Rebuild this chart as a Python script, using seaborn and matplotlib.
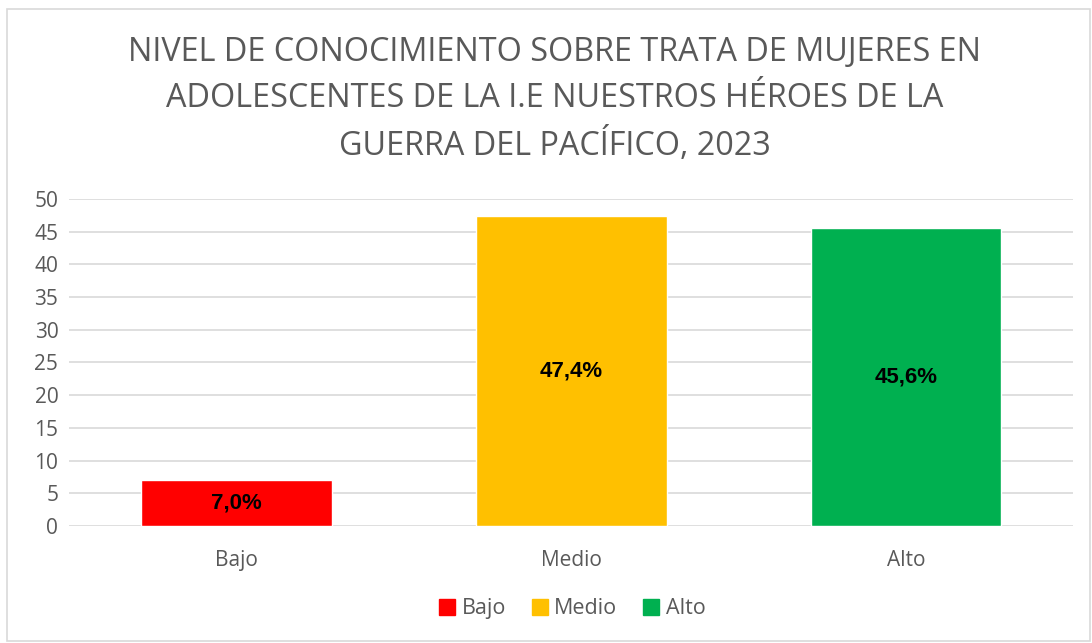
import matplotlib
matplotlib.use("Agg")
import matplotlib.pyplot as plt
import matplotlib.patches as mpatches
import seaborn as sns
import pandas as pd

# data
niveles = ["Bajo", "Medio", "Alto"]
porcentajes = [7.0, 47.4, 45.6]
etiquetas = ["7,0%", "47,4%", "45,6%"]
colores = ["#FF0000", "#FFC000", "#00B050"]

titulo = ("NIVEL DE CONOCIMIENTO SOBRE TRATA DE MUJERES EN\n"
          "ADOLESCENTES DE LA I.E NUESTROS HÉROES DE LA\n"
          "GUERRA DEL PACÍFICO, 2023")

df = pd.DataFrame({"nivel": niveles, "pct": porcentajes})

sns.set_style("white")
plt.rcParams["font.family"] = ["Open Sans", "DejaVu Sans"]
gris = "#595959"

fig = plt.figure(figsize=(10.92, 6.43), dpi=100)
ax = fig.add_axes([0.0636, 0.1820, 0.9194, 0.5086])

sns.barplot(data=df, x="nivel", y="pct", hue="nivel", palette=colores,
            width=0.57, saturation=1, legend=False, ax=ax, zorder=2)

for i, (v, t) in enumerate(zip(porcentajes, etiquetas)):
    ax.text(i, v / 2, t, ha="center", va="center", fontsize=16,
            fontweight="bold", family="Liberation Sans", color="black", zorder=3)

ax.set_ylim(0, 50)
ax.set_xlim(-0.5, 2.5)
ax.set_yticks(range(0, 51, 5))
ax.yaxis.grid(True, color="#D9D9D9", linewidth=1.2, zorder=0)
ax.set_axisbelow(True)
for s in ax.spines.values():
    s.set_visible(False)
ax.tick_params(axis="both", length=0, labelsize=15, colors=gris, pad=8)
ax.tick_params(axis="x", pad=17)
ax.set_xlabel("")
ax.set_ylabel("")

fig.text(0.508, 0.8445, titulo, ha="center", va="center", fontsize=23.3,
         color=gris, linespacing=1.5)

handles = [mpatches.Patch(color=c, label=n) for c, n in zip(colores, niveles)]
fig.legend(handles=handles, loc="center", bbox_to_anchor=(0.524, 0.053), ncol=3,
           frameon=False, fontsize=15.5, handlelength=0.75, handleheight=0.75,
           handletextpad=0.3, columnspacing=1.2, labelcolor=gris)

# chart border
fig.patches.append(mpatches.Rectangle((7 / 1092, 2 / 643), 1083 / 1092, 632 / 643,
                                      transform=fig.transFigure, fill=False,
                                      edgecolor="#D9D9D9", linewidth=1.2))

fig.savefig("out.png", dpi=100)
